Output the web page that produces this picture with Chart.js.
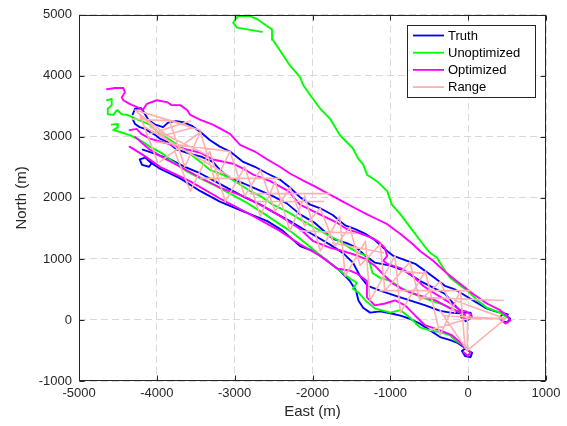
<!DOCTYPE html>
<html><head><meta charset="utf-8">
<script src="https://cdn.jsdelivr.net/npm/chart.js@4.4.1/dist/chart.umd.min.js"></script>
<style>html,body{margin:0;padding:0;background:#fff;}#wrap{width:567px;height:426px;}</style>
</head><body><div id="wrap"><canvas id="c" width="567" height="426"></canvas></div>
<script>
const xTicks = [-5000,-4000,-3000,-2000,-1000,0,1000];
const yTicks = [-1000,0,1000,2000,3000,4000,5000];
const seriesLabels = ['Truth','Unoptimized','Optimized','Range'];
const seriesColors = ['#0000ff','#00ff00','#ff00ff','#ffb0b0'];

// Truth passes (East m, North m)
const truthPass1 = [[-4310,3370],[-4280,3460],[-4200,3470],[-4160,3390],[-4110,3280],[-4020,3200],[-3920,3160],[-3860,3230],[-3770,3260],[-3660,3240],[-3550,3180],[-3440,3080],[-3320,2950],[-3190,2840],[-3060,2760],[-2890,2590],[-2740,2510],[-2580,2400],[-2420,2300],[-2290,2170],[-2160,2010],[-2030,1890],[-1900,1830],[-1740,1720],[-1580,1550],[-1450,1490],[-1320,1410],[-1200,1310],[-1070,1160],[-960,1050],[-810,980],[-680,920],[-550,800],[-420,680],[-300,560],[-170,500],[-40,400],[90,300],[220,200],[350,140],[450,110],[540,20],[500,-40],[440,-20],[410,40],[450,110],[510,90]];
const truthPass2 = [[-4310,3290],[-4280,3210],[-4220,3160],[-4150,3130],[-4090,3080],[-4020,3030],[-3960,2970],[-3870,2920],[-3740,2790],[-3570,2720],[-3440,2680],[-3280,2590],[-3190,2460],[-3060,2320],[-2890,2240],[-2710,2140],[-2510,2030],[-2330,1910],[-2160,1730],[-1970,1590],[-1740,1330],[-1560,1260],[-1430,1180],[-1320,1050],[-1200,940],[-1000,890],[-810,800],[-620,640],[-450,530],[-300,430],[-170,240],[-80,120],[30,120],[50,40],[-30,-20],[-100,60]];
const truthPass3 = [[-4180,2790],[-4020,2720],[-3830,2630],[-3640,2510],[-3440,2400],[-3250,2270],[-3060,2140],[-2870,2010],[-2670,1890],[-2480,1750],[-2290,1620],[-2120,1490],[-1940,1360],[-1770,1230],[-1610,1100],[-1480,940],[-1390,720],[-1290,560],[-1130,480],[-940,400],[-750,320],[-550,240],[-360,150],[-230,120],[-100,110]];
const truthPass4 = [[-4110,2630],[-4060,2580],[-4100,2510],[-4190,2540],[-4220,2630],[-4150,2660],[-4090,2590],[-3960,2480],[-3700,2320],[-3440,2110],[-3190,1940],[-2890,1780],[-2580,1620],[-2380,1460],[-2160,1210],[-1990,1130],[-1810,970],[-1650,810],[-1520,640],[-1440,480],[-1410,320],[-1350,200],[-1260,120],[-1130,140],[-1000,110],[-870,70],[-750,20],[-620,-60],[-490,-170],[-360,-280],[-230,-330],[-130,-380],[-50,-450],[0,-500],[50,-540],[30,-610],[-40,-590],[-80,-510],[-30,-460]];

// Unoptimized passes
const unoptPass1 = [[-4640,3600],[-4580,3620],[-4580,3520],[-4630,3460],[-4630,3370],[-4560,3360],[-4510,3440],[-4450,3370],[-4380,3360],[-4260,3290],[-4090,3200],[-3960,3050],[-3830,2950],[-3700,2840],[-3570,2720],[-3440,2590],[-3320,2460],[-3190,2400],[-3060,2320],[-2930,2220],[-2800,2110],[-2670,2030],[-2510,1890],[-2330,1780],[-2120,1620],[-1940,1490],[-1770,1370],[-1650,1290],[-1520,1180],[-1410,1100],[-1300,1050],[-1260,920],[-1230,770],[-1130,690],[-1000,640],[-870,530],[-710,430],[-550,350],[-360,270],[-210,190],[-100,120],[-40,70]];
const unoptPass2 = [[-4580,3200],[-4510,3210],[-4500,3160],[-4560,3110],[-4470,3080],[-4350,3030],[-4220,2950],[-4090,2840],[-3920,2720],[-3790,2590],[-3610,2430],[-3440,2320],[-3230,2190],[-3060,2070],[-2870,1940],[-2670,1780],[-2480,1620],[-2290,1460],[-2120,1290],[-1940,1100],[-1810,970],[-1650,810],[-1520,680],[-1430,610],[-1480,510],[-1410,450],[-1320,320],[-1200,190],[-1000,120],[-870,160],[-750,40],[-620,-120],[-490,-170],[-360,-200],[-230,-250],[-170,-330],[-80,-400],[-10,-460]];
const unoptPass3 = [[500,40],[410,120],[240,200],[120,320],[-10,480],[-130,590],[-230,690],[-320,850],[-400,1020],[-490,1100],[-580,1240],[-710,1460],[-870,1730],[-980,1890],[-1040,2110],[-1170,2270],[-1300,2380],[-1350,2550],[-1410,2640],[-1480,2810],[-1650,3030],[-1710,3160],[-1770,3290],[-1900,3460],[-2010,3650],[-2120,3850],[-2160,3980],[-2290,4170],[-2420,4420],[-2510,4590],[-2520,4760],[-2700,4920],[-2800,4980],[-2960,4980],[-3020,4870],[-2970,4790],[-2650,4720]];

// Optimized passes
const optPass1 = [[-4640,3780],[-4540,3800],[-4430,3800],[-4410,3730],[-4450,3650],[-4430,3600],[-4350,3540],[-4260,3490],[-4180,3440],[-4130,3540],[-4000,3600],[-3870,3570],[-3810,3520],[-3700,3520],[-3610,3440],[-3570,3360],[-3440,3280],[-3280,3200],[-3060,3050],[-2930,2870],[-2740,2760],[-2580,2630],[-2420,2510],[-2290,2400],[-2100,2270],[-1970,2190],[-1860,2110],[-1740,2030],[-1610,1940],[-1450,1830],[-1300,1730],[-1170,1650],[-1040,1570],[-870,1410],[-710,1240],[-620,1130],[-450,970],[-270,760],[-100,590],[60,430],[240,270],[410,160],[500,70],[540,-10],[480,-60],[410,20]];
const optPass2 = [[-4350,3110],[-4260,3130],[-4200,3050],[-4090,2970],[-3890,2900],[-3700,2820],[-3440,2740],[-3280,2630],[-3020,2560],[-2890,2480],[-2760,2380],[-2550,2280],[-2310,2110],[-2160,1890],[-1940,1750],[-1680,1590],[-1560,1490],[-1390,1420],[-1230,1340],[-1160,1290],[-1070,1180],[-1040,1050],[-1090,970],[-1040,920],[-870,850],[-710,720],[-580,560],[-450,450],[-320,350],[-190,240],[-100,160],[-30,140],[40,90],[-10,10],[-90,40],[-60,120]];
const optPass3 = [[-4280,3000],[-4090,2790],[-3890,2640],[-3700,2510],[-3440,2330],[-3190,2170],[-2890,2030],[-2670,1890],[-2450,1730],[-2160,1490],[-1990,1290],[-1770,1180],[-1610,1130],[-1480,1080],[-1320,1000],[-1200,890],[-1070,720],[-960,590],[-810,480],[-620,400],[-420,320],[-230,190],[-100,120],[-40,90]];
const optPass4 = [[-4350,2840],[-4150,2680],[-3960,2510],[-3570,2270],[-3190,1990],[-2800,1730],[-2420,1460],[-2160,1240],[-1900,1050],[-1680,840],[-1520,810],[-1430,760],[-1300,640],[-1300,370],[-1200,240],[-1070,270],[-940,320],[-810,240],[-680,70],[-550,-90],[-360,-170],[-210,-250],[-100,-370],[-40,-460],[30,-530],[0,-590],[-60,-530]];

// Range links
const rangeZigA = [[-3830,3240],[-3640,2510],[-3440,3080],[-3250,2270],[-3060,2760],[-2870,2030],[-2670,2460],[-2480,1780],[-2290,2170],[-2100,1540],[-1900,1830],[-1710,1210],[-1520,1520],[-1390,890],[-1130,1240],[-1070,480],[-750,950],[-620,320],[-360,630],[-170,120]];
const rangeZigB = [[-3770,2760],[-3570,2110],[-3320,2760],[-3120,1940],[-2870,2510],[-2670,1700],[-2480,2270],[-2290,1460],[-2100,2030],[-1900,1130],[-1650,1700],[-1580,720],[-1320,1290],[-1260,320],[-940,1050],[-870,120],[-550,800],[-360,-250],[-100,480],[-40,-460]];
const rangeLinks = [
 [[-4280,3440],[-3440,3110]],[[-4280,3440],[-3640,3200]],[[-4260,3410],[-3890,3050]],[[-4220,3360],[-3700,2760]],
 [[-4220,3360],[-3990,2590]],[[-4310,3290],[-3770,3260]],[[-4090,3160],[-3380,2720]],[[-4090,3050],[-3570,3260]],
 [[-3960,2590],[-3440,3080]],[[-3890,3030],[-3540,3150]],[[-4150,3160],[-3060,2350]],[[-4020,2920],[-3060,2760]],
 [[-3440,2320],[-2420,2320]],[[-2800,2070],[-1770,2070]],[[-2710,1940],[-1860,1940]],[[-1740,1260],[-1090,1100]],
 [[-870,800],[-530,760]],[[-620,370],[450,320]],[[-1130,480],[30,480]],[[-2160,1460],[-1450,1420]],
 [[480,20],[-10,-500]],[[480,20],[-10,20]],[[480,20],[-300,70]],[[-170,320],[480,20]],
 [[-360,150],[-10,-500]],[[-10,20],[-10,-500]],[[-490,-170],[-10,20]]
];

function joinTracks(tracks){
  const out=[];
  tracks.forEach((t,i)=>{ if(i) out.push({x:null,y:null}); t.forEach(p=>out.push({x:p[0],y:p[1]})); });
  return out;
}

const frameLegend = {
  id:'frameLegend',
  afterDatasetsDraw(chart){
    const {ctx, chartArea:a, scales:{x,y}} = chart;
    ctx.save();
    ctx.strokeStyle='#262626'; ctx.lineWidth=1;
    const L=Math.round(a.left)+0.5, R=Math.round(a.right)-0.5, T=Math.round(a.top)+0.5, B=Math.round(a.bottom)-0.5;
    ctx.beginPath();
    xTicks.forEach(v=>{const p=Math.round(x.getPixelForValue(v))+0.5; ctx.moveTo(p,B); ctx.lineTo(p,B-5); ctx.moveTo(p,T); ctx.lineTo(p,T+5);});
    yTicks.forEach(v=>{const p=Math.round(y.getPixelForValue(v))+0.5; ctx.moveTo(L,p); ctx.lineTo(L+5,p); ctx.moveTo(R,p); ctx.lineTo(R-5,p);});
    ctx.stroke();
    ctx.strokeRect(L,T,R-L,B-T);
    // legend
    const lx=407.5, ly=25.5, lw=128, lh=72;
    ctx.fillStyle='#fff'; ctx.fillRect(lx,ly,lw,lh);
    ctx.strokeStyle='#262626'; ctx.strokeRect(lx,ly,lw,lh);
    ctx.font='13px "Liberation Sans", Arial, sans-serif';
    ctx.textBaseline='middle'; ctx.textAlign='left';
    seriesLabels.forEach((lab,i)=>{
      const yy=35.5+i*17.2;
      ctx.strokeStyle=seriesColors[i]; ctx.lineWidth=1.8;
      ctx.beginPath(); ctx.moveTo(413,yy); ctx.lineTo(444,yy); ctx.stroke();
      ctx.fillStyle='#000'; ctx.fillText(lab,448,yy+0.5);
    });
    ctx.restore();
  }
};

const tickFont = {family:'"Liberation Sans", Arial, sans-serif', size:13};
const titleFont = {family:'"Liberation Sans", Arial, sans-serif', size:15};

new Chart(document.getElementById('c'), {
  type:'scatter',
  data:{datasets:[
    {label:seriesLabels[0], data:joinTracks([truthPass1,truthPass2,truthPass3,truthPass4]), borderColor:seriesColors[0], order:3},
    {label:seriesLabels[1], data:joinTracks([unoptPass1,unoptPass2,unoptPass3]), borderColor:seriesColors[1], order:2},
    {label:seriesLabels[2], data:joinTracks([optPass1,optPass2,optPass3,optPass4]), borderColor:seriesColors[2], order:1},
    {label:seriesLabels[3], data:joinTracks([rangeZigA,rangeZigB].concat(rangeLinks)), borderColor:seriesColors[3], order:0, borderWidth:1.6}
  ]},
  options:{
    responsive:false, animation:false, devicePixelRatio:1,
    showLine:true, spanGaps:false,
    elements:{point:{radius:0,hoverRadius:0}, line:{borderWidth:1.9, tension:0, borderJoinStyle:'round', borderCapStyle:'round', fill:false}},
    layout:{padding:{left:0,right:21,top:12,bottom:0}},
    plugins:{legend:{display:false}, tooltip:{enabled:false}},
    scales:{
      x:{type:'linear', min:-5000, max:1000,
         afterBuildTicks:s=>{s.ticks=xTicks.map(v=>({value:v}));},
         afterFit:s=>{s.height=45;},
         ticks:{font:tickFont, color:'#262626', padding:5, maxRotation:0, callback:v=>String(v)},
         grid:{color:'#d9d9d9', lineWidth:1, drawTicks:false},
         border:{display:false, dash:[7,4]},
         title:{display:true, text:'East (m)', font:titleFont, color:'#262626', padding:{top:0,bottom:5}}},
      y:{type:'linear', min:-1000, max:5000,
         afterBuildTicks:s=>{s.ticks=yTicks.map(v=>({value:v}));},
         afterFit:s=>{s.width=79;},
         ticks:{font:tickFont, color:'#262626', padding:7, callback:v=>String(v)},
         grid:{color:'#d9d9d9', lineWidth:1, drawTicks:false},
         border:{display:false, dash:[7,4]},
         title:{display:true, text:'North (m)', font:titleFont, color:'#262626', padding:{top:13,bottom:0}}}
    }
  },
  plugins:[frameLegend]
});
</script></body></html>
